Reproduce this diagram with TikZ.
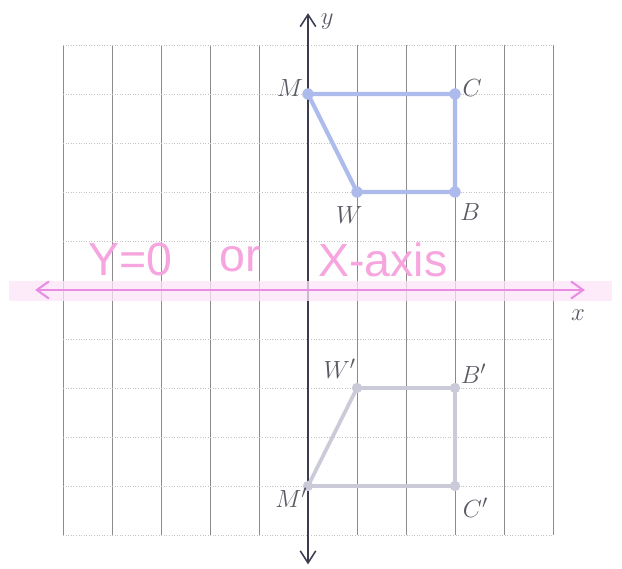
\documentclass[tikz,border=0pt]{standalone}
\usepackage{fontspec}
\newfontfamily\handfont{Liberation Sans}
\usetikzlibrary{arrows.meta}
\definecolor{gridv}{RGB}{140,140,140}
\definecolor{gridh}{RGB}{195,195,195}
\definecolor{axiscol}{RGB}{60,60,80}
\definecolor{upcol}{RGB}{172,186,236}
\definecolor{lowcol}{RGB}{202,202,216}
\definecolor{pinkline}{RGB}{232,140,228}
\definecolor{pinkband}{RGB}{252,228,248}
\definecolor{pinktext}{RGB}{246,165,222}
\definecolor{labcol}{RGB}{90,90,100}
\tikzset{
  vline/.style={gridv, line width=0.5pt},
  hline/.style={gridh, line width=0.5pt, densely dotted},
  axisline/.style={axiscol, line width=0.9pt},
  upper/.style={upcol, line width=2.4pt, line join=round},
  lower/.style={lowcol, line width=2.2pt, line join=round},
  updot/.style={fill=upcol},
  lowdot/.style={fill=lowcol},
  lab/.style={labcol, font=\fontsize{15}{18}\selectfont},
  hand/.style={pinktext, font=\handfont\fontsize{27}{30}\selectfont},
}
\begin{document}
\begin{tikzpicture}
\useasboundingbox (-6.286,-5.694) rectangle (6.408,5.918);
% grid
\foreach \x in {-5,...,5} \draw[vline] (\x,-5) -- (\x,5);
\foreach \y in {-5,...,5} \draw[hline] (-5,\y) -- (5,\y);
% y axis
\coordinate (ybot) at (0,-5.6);
\coordinate (ytop) at (0,5.65);
\draw[axisline, {Straight Barb[length=7pt,width=9pt]}-{Straight Barb[length=7pt,width=9pt]}] (ybot) -- (ytop);
\node[lab] (ylab) at (0.39,5.47) {$y$};
% pink band and x axis
\coordinate (bl) at (-6.1,-0.02);
\coordinate (br) at (6.2,-0.02);
\draw[pinkband, line width=12pt, opacity=0.75] (bl) -- (br);
\coordinate (xl) at (-5.57,0);
\coordinate (xr) at (5.65,0);
\draw[pinkline, line width=1.2pt, {Straight Barb[length=7pt,width=10pt]}-{Straight Barb[length=7pt,width=10pt]}] (xl) -- (xr);
\node[lab] (xlab) at (5.51,-0.51) {$x$};
% handwritten label
\node[hand] (h1) at (-3.63,0.62) {Y=0};
\node[hand] (h2) at (-1.39,0.62) {or};
\node[hand] (h3) at (1.53,0.62) {X-axis};
% upper figure
\coordinate (M) at (0,4);
\coordinate (C) at (3,4);
\coordinate (B) at (3,2);
\coordinate (W) at (1,2);
\draw[upper] (M) -- (C) -- (B) -- (W) -- cycle;
\foreach \p in {M,C,B,W} \fill[updot] (\p) circle (3.3pt);
\node[lab] (Ml) at (-0.37,4.12) {$M$};
\node[lab] (Cl) at (3.35,4.12) {$C$};
\node[lab] (Wl) at (0.84,1.53) {$W$};
\node[lab] (Bl) at (3.31,1.59) {$B$};
% lower figure
\coordinate (Mp) at (0,-4);
\coordinate (Wp) at (1,-2);
\coordinate (Bp) at (3,-2);
\coordinate (Cp) at (3,-4);
\draw[lower] (Mp) -- (Wp) -- (Bp) -- (Cp) -- cycle;
\foreach \p in {Mp,Wp,Bp,Cp} \fill[lowdot] (\p) circle (3pt);
\node[lab] (Wpl) at (0.65,-1.6) {$W'$};
\node[lab] (Bpl) at (3.38,-1.7) {$B'$};
\node[lab] (Mpl) at (-0.34,-4.24) {$M'$};
\node[lab] (Cpl) at (3.42,-4.45) {$C'$};
\end{tikzpicture}
\end{document}
